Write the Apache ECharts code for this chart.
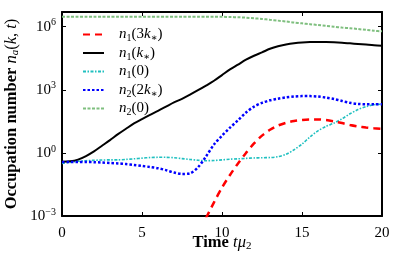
<!DOCTYPE html>
<html><head><meta charset="utf-8">
<script src="https://cdn.jsdelivr.net/npm/echarts@6/dist/echarts.min.js"></script>
<style>html,body{margin:0;padding:0;background:#fff}#c{width:415px;height:256px}</style>
</head><body><div id="c"></div>
<script>
// time grid (t mu_2)
const times = [0,0.5,1,1.5,2,2.5,3,3.5,4,4.5,5,5.5,6,6.5,7,7.5,8,8.5,9,9.5,10,10.5,11,11.5,12,12.5,13,13.5,14,14.5,15,15.5,16,16.5,17,17.5,18,18.5,19,19.5,20];
const timesRed = [9,9.5,10,10.5,11,11.5,12,12.5,13,13.5,14,14.5,15,15.5,16,16.5,17,17.5,18,18.5,19,19.5,20];
// log10 of occupation numbers
const n1_3k = [-3.10,-2.35,-1.65,-1.05,-0.50,0.00,0.45,0.82,1.10,1.30,1.43,1.52,1.57,1.59,1.59,1.56,1.50,1.42,1.33,1.26,1.21,1.17,1.15];
const n1_k = [-0.42,-0.40,-0.32,-0.15,0.07,0.34,0.61,0.89,1.15,1.40,1.61,1.81,2.00,2.20,2.40,2.57,2.77,2.98,3.20,3.43,3.70,3.97,4.20,4.43,4.62,4.78,4.95,5.07,5.15,5.21,5.25,5.27,5.27,5.27,5.26,5.24,5.21,5.18,5.15,5.12,5.10];
const n1_0 = [-0.50,-0.45,-0.40,-0.37,-0.35,-0.34,-0.33,-0.33,-0.31,-0.28,-0.25,-0.22,-0.21,-0.21,-0.23,-0.27,-0.31,-0.35,-0.37,-0.36,-0.33,-0.30,-0.28,-0.26,-0.24,-0.23,-0.22,-0.18,-0.07,0.15,0.42,0.76,1.05,1.26,1.42,1.62,1.86,2.06,2.20,2.29,2.32];
const n2_2k = [-0.43,-0.43,-0.43,-0.43,-0.44,-0.46,-0.48,-0.50,-0.53,-0.57,-0.62,-0.67,-0.73,-0.82,-0.93,-1.00,-0.97,-0.68,-0.17,0.40,0.82,1.20,1.55,1.92,2.20,2.38,2.50,2.58,2.64,2.68,2.70,2.70,2.68,2.63,2.56,2.47,2.38,2.33,2.31,2.31,2.31];
const n2_0 = [6.47,6.47,6.47,6.47,6.47,6.47,6.47,6.47,6.47,6.47,6.47,6.47,6.47,6.47,6.47,6.47,6.47,6.47,6.47,6.47,6.47,6.46,6.45,6.43,6.40,6.37,6.33,6.29,6.25,6.20,6.16,6.12,6.08,6.04,6.00,5.96,5.93,5.89,5.85,5.81,5.78];
const xTicks = [0,5,10,15,20];
const yTickExps = [-3,0,3,6];

const pairs = (ts, vs) => ts.map((t, i) => [t, vs[i]]);
const SERIF = '"Liberation Serif","DejaVu Serif",serif';
const rich = {
  i: {fontFamily: SERIF, fontStyle: 'italic', fontSize: 15, lineHeight: 18, color: '#000', verticalAlign: 'middle'},
  r: {fontFamily: SERIF, fontSize: 15, lineHeight: 18, color: '#000', verticalAlign: 'middle'},
  s: {fontFamily: SERIF, fontSize: 10, lineHeight: 10, color: '#000', verticalAlign: 'bottom'},
  sup: {fontFamily: SERIF, fontSize: 10, lineHeight: 10, color: '#000', verticalAlign: 'top'}
};
const richTitle = {
  i: {fontFamily: SERIF, fontStyle: 'italic', fontSize: 16.5, lineHeight: 18, color: '#000', verticalAlign: 'middle'},
  r: {fontFamily: SERIF, fontSize: 16.5, lineHeight: 18, color: '#000', verticalAlign: 'middle'},
  b: {fontFamily: SERIF, fontSize: 16.5, fontWeight: 'bold', lineHeight: 18, color: '#000', verticalAlign: 'middle'},
  s: {fontFamily: SERIF, fontSize: 11, lineHeight: 10, color: '#000', verticalAlign: 'bottom'},
  si: {fontFamily: SERIF, fontStyle: 'italic', fontSize: 11, lineHeight: 10, color: '#000', verticalAlign: 'bottom'}
};
const names = {
  'n1_3k': '{i|n}{s|1}{r|(3}{i|k}{s|∗}{r|)}',
  'n1_k': '{i|n}{s|1}{r|(}{i|k}{s|∗}{r|)}',
  'n1_0': '{i|n}{s|1}{r|(0)}',
  'n2_2k': '{i|n}{s|2}{r|(2}{i|k}{s|∗}{r|)}',
  'n2_0': '{i|n}{s|2}{r|(0)}'
};

const chart = echarts.init(document.getElementById('c'), null, {renderer: 'canvas'});
const axisLine = {show: true, onZero: false, lineStyle: {color: '#000', width: 2}};
const tick = {show: true, inside: true, length: 4, lineStyle: {color: '#000', width: 1}};
chart.setOption({
  animation: false,
  backgroundColor: '#fff',
  grid: {left: 62, right: 33, top: 12, bottom: 40, containLabel: false, outerBoundsMode: 'none'},
  legend: {
    orient: 'vertical', left: 77, top: 22, itemWidth: 21, itemHeight: 10, itemGap: 2,
    data: ['n1_3k','n1_k','n1_0','n2_2k','n2_0'],
    formatter: n => names[n],
    itemStyle: {opacity: 0},
    textStyle: {rich: rich, padding: [0,0,0,10]}
  },
  xAxis: [{
    type: 'value', min: 0, max: 20, interval: 5, position: 'bottom',
    axisLine: axisLine, axisTick: tick, splitLine: {show: false},
    axisLabel: {margin: 8, formatter: v => xTicks.includes(v) ? '{r|' + v + '}' : '', rich: rich},
    name: '{b|Time }{i|tμ}{s|2}', nameLocation: 'middle', nameGap: 18, nameMoveOverlap: false,
    nameTextStyle: {rich: richTitle}
  }, {
    type: 'value', min: 0, max: 20, interval: 5, position: 'top',
    axisLine: axisLine, axisTick: tick, splitLine: {show: false}, axisLabel: {show: false}
  }],
  yAxis: [{
    type: 'value', min: -3, max: 6.7, interval: 3, position: 'left',
    axisLine: axisLine, axisTick: tick, splitLine: {show: false},
    axisLabel: {margin: 6, formatter: v => yTickExps.includes(v) ? '{r|10}{sup|' + (v < 0 ? '−' + (-v) : v) + '}' : '', rich: rich},
    name: '{b|Occupation number }{i|n}{si|a}{r|(}{i|k}{r|, }{i|t}{r|)}', nameLocation: 'middle', nameGap: 41, nameMoveOverlap: false,
    nameTextStyle: {rich: richTitle}
  }, {
    type: 'value', min: -3, max: 6.7, interval: 3, position: 'right',
    axisLine: axisLine, axisTick: tick, splitLine: {show: false}, axisLabel: {show: false}
  }],
  series: [
    {name: 'n2_0', type: 'line', data: pairs(times, n2_0), showSymbol: false, symbol: 'none', smooth: 0.3,
     lineStyle: {color: '#7fbf7f', width: 2, type: [3, 1.5]}, itemStyle: {color: '#7fbf7f'}, z: 2},
    {name: 'n1_0', type: 'line', data: pairs(times, n1_0), showSymbol: false, symbol: 'none', smooth: 0.3,
     lineStyle: {color: '#20c0c0', width: 1.6, type: [3, 1.5, 1.5, 1.5]}, itemStyle: {color: '#20c0c0'}, z: 3},
    {name: 'n1_k', type: 'line', data: pairs(times, n1_k), showSymbol: false, symbol: 'none', smooth: 0.3,
     lineStyle: {color: '#000', width: 2}, itemStyle: {color: '#000'}, z: 4},
    {name: 'n2_2k', type: 'line', data: pairs(times, n2_2k), showSymbol: false, symbol: 'none', smooth: 0.3,
     lineStyle: {color: '#0000ff', width: 2.5, type: [2.5, 2]}, itemStyle: {color: '#0000ff'}, z: 5},
    {name: 'n1_3k', type: 'line', data: pairs(timesRed, n1_3k), showSymbol: false, symbol: 'none', smooth: 0.3, clip: true,
     lineStyle: {color: '#ff0000', width: 2.5, type: [7, 5]}, itemStyle: {color: '#ff0000'}, z: 6}
  ]
});
</script></body></html>
